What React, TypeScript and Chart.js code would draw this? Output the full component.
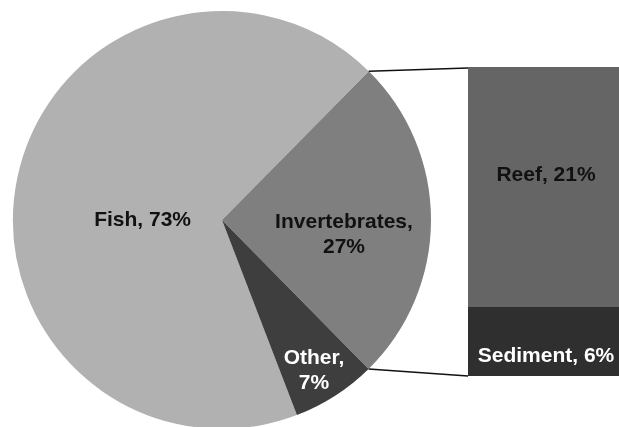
import { useEffect, useRef } from "react";
import { Chart, registerables } from "chart.js";

Chart.register(...registerables);

// Diet composition: main pie
const pieLabels = ["Fish", "Invertebrates", "Other"];
const pieValues = [73, 27, 7];
const pieColors = ["#b1b1b1", "#7f7f7f", "#3e3e3e"];
const pieTextColors = ["#111111", "#111111", "#ffffff"];
const pieWrap = [false, true, true];

// Breakdown of the invertebrate share
const barLabels = ["Sediment", "Reef"];
const barValues = [6, 21];
const barColors = ["#2f2f2f", "#656565"];
const barTextColors = ["#ffffff", "#111111"];

// label placement inside each slice: fraction of radius, turn from mid-angle (deg)
const pieLabelRadius = [0.38, 0.587, 0.836];
const pieLabelTurn = [-10.7, 6.1, 1.0];
// label offset from the centre of each bar segment (px)
const barLabelShift = [13.3, -13.2];

const FONT = 'bold 21px "Liberation Sans", Arial, sans-serif';
const LINE_GAP = 25;
const HALF_CAP = 7.5;

const BAR_LEFT = 468;
const BAR_TOP = 67;
const BAR_W = 156;
const BAR_H = 309;

function labelLines(label: string, value: number, wrap: boolean): string[] {
  return wrap ? [label + ",", value + "%"] : [label + ", " + value + "%"];
}

export default function App() {
  const pieRef = useRef<HTMLCanvasElement | null>(null);
  const barRef = useRef<HTMLCanvasElement | null>(null);

  useEffect(() => {
    if (!pieRef.current || !barRef.current) return;

    const barLabelPlugin = {
      id: "barLabels",
      afterDatasetsDraw(chart: any) {
        const ctx = chart.ctx;
        ctx.save();
        ctx.font = FONT;
        ctx.textAlign = "center";
        ctx.textBaseline = "alphabetic";
        chart.data.datasets.forEach((ds: any, i: number) => {
          const el: any = chart.getDatasetMeta(i).data[0];
          const cy = (el.y + el.base) / 2 + barLabelShift[i];
          ctx.fillStyle = barTextColors[i];
          ctx.fillText(`${barLabels[i]}, ${ds.data[0]}%`, el.x, cy + HALF_CAP);
        });
        ctx.restore();
      },
    };

    const barChart = new Chart(barRef.current, {
      type: "bar",
      data: {
        labels: ["Invertebrates"],
        datasets: barLabels.map((l, i) => ({
          label: l,
          data: [barValues[i]],
          backgroundColor: barColors[i],
          borderWidth: 0,
          barPercentage: 1,
          categoryPercentage: 1,
        })),
      },
      options: {
        responsive: false,
        animation: false,
        layout: { padding: 0 },
        plugins: { legend: { display: false }, tooltip: { enabled: false } },
        scales: {
          x: { display: false, stacked: true },
          y: { display: false, stacked: true, min: 0, max: 27 },
        },
      },
      plugins: [barLabelPlugin],
    });

    const pieLabelPlugin = {
      id: "pieLabels",
      afterDatasetsDraw(chart: any) {
        const ctx = chart.ctx;
        const meta = chart.getDatasetMeta(0);
        ctx.save();
        ctx.font = FONT;
        ctx.textAlign = "center";
        ctx.textBaseline = "alphabetic";
        meta.data.forEach((el: any, i: number) => {
          const a = (el.startAngle + el.endAngle) / 2 + (pieLabelTurn[i] * Math.PI) / 180;
          const r = el.outerRadius * pieLabelRadius[i];
          const cx = el.x + Math.cos(a) * r;
          const cy = el.y + Math.sin(a) * r;
          const lines = labelLines(pieLabels[i], pieValues[i], pieWrap[i]);
          const first = cy - ((lines.length - 1) * LINE_GAP) / 2;
          ctx.fillStyle = pieTextColors[i];
          lines.forEach((t, k) => ctx.fillText(t, cx, first + k * LINE_GAP + HALF_CAP));
        });
        ctx.restore();
      },
    };

    // lines joining the invertebrate slice to the breakdown bar
    const connectorPlugin = {
      id: "connectors",
      afterDatasetsDraw(chart: any) {
        const ctx = chart.ctx;
        const inv: any = chart.getDatasetMeta(0).data[1];
        const R = inv.outerRadius;
        const top: any = barChart.getDatasetMeta(1).data[0];
        const bottom: any = barChart.getDatasetMeta(0).data[0];
        const left = top.x - top.width / 2 + BAR_LEFT;
        ctx.save();
        ctx.strokeStyle = "#111111";
        ctx.lineWidth = 1.5;
        ctx.beginPath();
        ctx.moveTo(inv.x + Math.cos(inv.startAngle) * R, inv.y + Math.sin(inv.startAngle) * R);
        ctx.lineTo(left, top.y + BAR_TOP + 1);
        ctx.moveTo(inv.x + Math.cos(inv.endAngle) * R, inv.y + Math.sin(inv.endAngle) * R);
        ctx.lineTo(left, bottom.base + BAR_TOP);
        ctx.stroke();
        ctx.restore();
      },
    };

    const pieChart = new Chart(pieRef.current, {
      type: "pie",
      data: {
        labels: pieLabels,
        datasets: [
          {
            data: pieValues,
            backgroundColor: pieColors,
            borderWidth: 0,
          },
        ],
      },
      options: {
        responsive: false,
        animation: false,
        rotation: 159,
        layout: { padding: { left: 13, right: 188, top: 11, bottom: 12 } },
        plugins: { legend: { display: false }, tooltip: { enabled: false } },
      },
      plugins: [pieLabelPlugin, connectorPlugin],
    });

    return () => {
      pieChart.destroy();
      barChart.destroy();
    };
  }, []);

  return (
    <div
      style={{
        position: "fixed",
        left: 0,
        top: 0,
        width: 619,
        height: 427,
        overflow: "hidden",
        background: "#ffffff",
      }}
    >
      <canvas ref={pieRef} width={619} height={441} style={{ position: "absolute", left: 0, top: 0 }} />
      <canvas
        ref={barRef}
        width={BAR_W}
        height={BAR_H}
        style={{ position: "absolute", left: BAR_LEFT, top: BAR_TOP }}
      />
    </div>
  );
}
